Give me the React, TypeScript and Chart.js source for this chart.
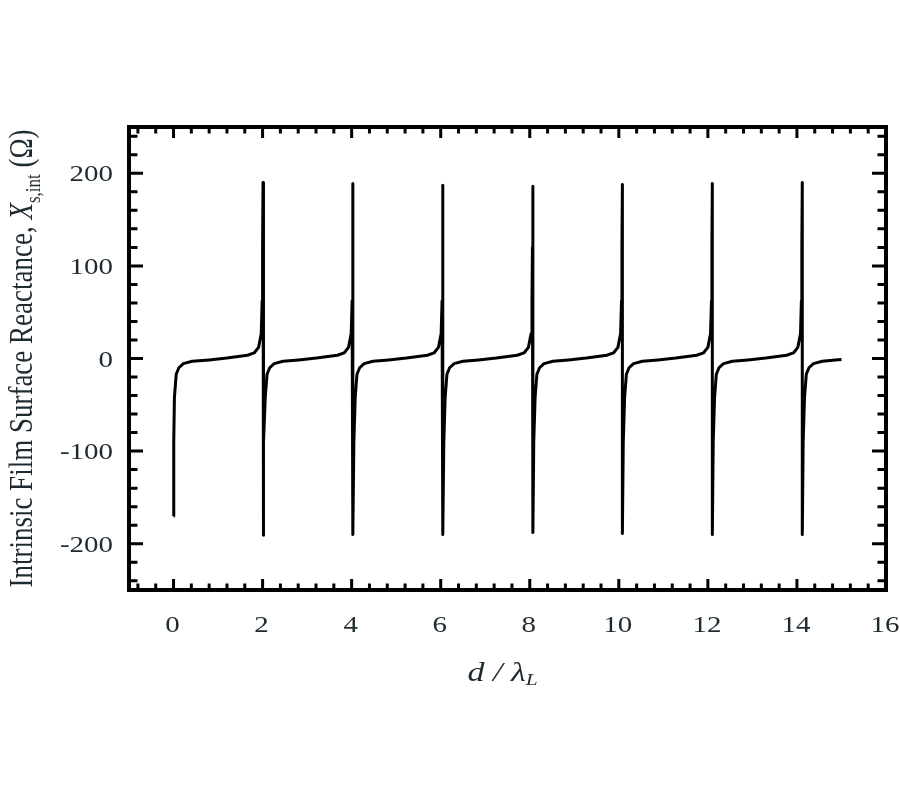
import React, { useEffect, useRef } from "react";
import { Chart, registerables } from "chart.js";

Chart.register(...registerables);

// Axis ranges and ticks
const X_MIN = -1;
const X_MAX = 16;
const Y_MIN = -250;
const Y_MAX = 250;
const X_TICKS = [0, 2, 4, 6, 8, 10, 12, 14, 16];
const Y_TICKS = [-200, -100, 0, 100, 200];
const X_MINOR_STEP = 0.4;
const Y_MINOR_STEP = 20;

// Curve: d / lambda_L  vs  X_s,int (Ohm)
const curveX = [
  0.0, 0.005, 0.02, 0.06, 0.12, 0.22, 0.42, 0.8, 1.2, 1.66, 1.81, 1.91, 1.97, 1.99, 2.0, 2.01,
  2.01, 2.03, 2.06, 2.1, 2.16, 2.26, 2.46, 2.81, 3.21, 3.68, 3.83, 3.93, 3.99, 4.01, 4.02, 4.03,
  4.03, 4.05, 4.08, 4.12, 4.18, 4.28, 4.48, 4.83, 5.23, 5.7, 5.85, 5.95, 6.01, 6.03, 6.04, 6.05,
  6.05, 6.07, 6.1, 6.14, 6.2, 6.3, 6.5, 6.85, 7.25, 7.72, 7.87, 7.97, 8.03, 8.05, 8.06, 8.07,
  8.07, 8.09, 8.12, 8.16, 8.22, 8.32, 8.52, 8.87, 9.27, 9.73, 9.88, 9.98, 10.04, 10.06, 10.07, 10.08,
  10.08, 10.1, 10.13, 10.17, 10.23, 10.33, 10.53, 10.88, 11.28, 11.75, 11.9, 12.0, 12.06, 12.08, 12.09, 12.1,
  12.1, 12.12, 12.15, 12.19, 12.25, 12.35, 12.55, 12.9, 13.3, 13.77, 13.92, 14.02, 14.08, 14.1, 14.11, 14.12,
  14.12, 14.14, 14.17, 14.21, 14.27, 14.37, 14.57, 14.8, 15.0,
];
const curveY = [
  -170, -90, -42, -17, -10, -5.5, -3, -1.5, 0.5, 3.5, 6, 12, 27, 62, 120, 190,
  -191, -90, -42, -17, -10, -5.5, -3, -1.5, 0.5, 3.5, 6, 12, 27, 62, 120, 189,
  -190, -90, -42, -17, -10, -5.5, -3, -1.5, 0.5, 3.5, 6, 12, 27, 62, 120, 187,
  -190, -90, -42, -17, -10, -5.5, -3, -1.5, 0.5, 3.5, 6, 12, 27, 62, 120, 186,
  -188, -90, -42, -17, -10, -5.5, -3, -1.5, 0.5, 3.5, 6, 12, 27, 62, 120, 188,
  -189, -90, -42, -17, -10, -5.5, -3, -1.5, 0.5, 3.5, 6, 12, 27, 62, 120, 189,
  -190, -90, -42, -17, -10, -5.5, -3, -1.5, 0.5, 3.5, 6, 12, 27, 62, 120, 190,
  -190, -90, -42, -17, -10, -5.5, -3, -2, -1,
];

const TEXT_COLOR = "#1f2b30";
const SERIF = '"Liberation Serif", "Times New Roman", serif';
const STRETCH = 1.26;

type Part = { text: string; italic?: boolean; sub?: boolean };

const Y_TITLE: Part[] = [
  { text: "Intrinsic Film Surface Reactance, " },
  { text: "X", italic: true },
  { text: "s,int", sub: true },
  { text: " (Ω)" },
];
const X_TITLE: Part[] = [
  { text: "d", italic: true },
  { text: " / ", italic: true },
  { text: "λ", italic: true },
  { text: "L", italic: true, sub: true },
];

function partFont(p: Part, size: number) {
  const s = p.sub ? Math.round(size * 0.64) : size;
  return `${p.italic ? "italic " : ""}${s}px ${SERIF}`;
}

function drawParts(ctx: CanvasRenderingContext2D, parts: Part[], size: number, subDrop: number) {
  // draws centered at origin, alphabetic baseline at y=0
  let total = 0;
  const widths: number[] = [];
  for (const p of parts) {
    ctx.font = partFont(p, size);
    const w = ctx.measureText(p.text).width;
    widths.push(w);
    total += w;
  }
  let x = -total / 2;
  ctx.textAlign = "left";
  ctx.textBaseline = "alphabetic";
  parts.forEach((p, i) => {
    ctx.font = partFont(p, size);
    ctx.fillText(p.text, x, p.sub ? subDrop : 0);
    x += widths[i];
  });
}

const framePlugin = {
  id: "framePlugin",
  afterDraw(chart: any) {
    const { ctx, chartArea } = chart;
    const { left, right, top, bottom } = chartArea;
    const xs = chart.scales.x;
    const ys = chart.scales.y;
    ctx.save();

    // minor + major ticks, pointing inward on all four sides
    ctx.strokeStyle = "#000";
    ctx.lineCap = "butt";
    ctx.lineWidth = 3;
    const isMajor = (v: number, arr: number[]) => arr.some((t) => Math.abs(t - v) < 1e-6);

    const xTick = (v: number, len: number) => {
      const px = xs.getPixelForValue(v);
      ctx.beginPath();
      ctx.moveTo(px, bottom);
      ctx.lineTo(px, bottom - len);
      ctx.moveTo(px, top);
      ctx.lineTo(px, top + len);
      ctx.stroke();
    };
    const yTick = (v: number, len: number) => {
      const py = ys.getPixelForValue(v);
      ctx.beginPath();
      ctx.moveTo(left, py);
      ctx.lineTo(left + len, py);
      ctx.moveTo(right, py);
      ctx.lineTo(right - len, py);
      ctx.stroke();
    };

    for (let k = Math.ceil(X_MIN / X_MINOR_STEP); k <= Math.floor(X_MAX / X_MINOR_STEP); k++) {
      const v = +(k * X_MINOR_STEP).toFixed(4);
      if (v <= X_MIN || v >= X_MAX) continue;
      if (!isMajor(v, X_TICKS)) xTick(v, 6.5);
    }
    X_TICKS.forEach((v) => xTick(v, 11));
    for (let k = Math.ceil(Y_MIN / Y_MINOR_STEP); k <= Math.floor(Y_MAX / Y_MINOR_STEP); k++) {
      const v = k * Y_MINOR_STEP;
      if (v <= Y_MIN || v >= Y_MAX) continue;
      if (!isMajor(v, Y_TICKS)) yTick(v, 8.5);
    }
    Y_TICKS.forEach((v) => yTick(v, 14));

    // frame
    ctx.lineWidth = 4;
    ctx.strokeRect(left, top, right - left, bottom - top);

    // tick labels
    ctx.fillStyle = TEXT_COLOR;
    ctx.font = `23px ${SERIF}`;
    ctx.textBaseline = "alphabetic";
    Y_TICKS.forEach((v) => {
      const py = ys.getPixelForValue(v);
      ctx.save();
      ctx.translate(left - 16, py + 8);
      ctx.scale(STRETCH, 1);
      ctx.textAlign = "right";
      ctx.fillText(String(v), 0, 0);
      ctx.restore();
    });
    X_TICKS.forEach((v) => {
      const px = xs.getPixelForValue(v);
      ctx.save();
      ctx.translate(px - 1, bottom + 42);
      ctx.scale(STRETCH, 1);
      ctx.textAlign = "center";
      ctx.fillText(String(v), 0, 0);
      ctx.restore();
    });

    // x axis title
    ctx.save();
    ctx.translate((left + right) / 2 - 5, bottom + 91);
    ctx.scale(STRETCH, 1);
    drawParts(ctx, X_TITLE, 27, 4);
    ctx.restore();

    // y axis title (rotated)
    ctx.save();
    ctx.translate(32, (top + bottom) / 2);
    ctx.scale(STRETCH, 1);
    ctx.rotate(-Math.PI / 2);
    drawParts(ctx, Y_TITLE, 27, 6);
    ctx.restore();

    ctx.restore();
  },
};

export default function App() {
  const canvasRef = useRef<HTMLCanvasElement | null>(null);

  useEffect(() => {
    const canvas = canvasRef.current;
    if (!canvas) return;
    const points = curveX.map((x, i) => ({ x, y: curveY[i] }));
    const chart = new Chart(canvas, {
      type: "scatter",
      data: {
        datasets: [
          {
            data: points,
            showLine: true,
            borderColor: "#000",
            backgroundColor: "#000",
            borderWidth: 3,
            pointRadius: 0,
            pointHoverRadius: 0,
            tension: 0,
            fill: false,
            borderJoinStyle: "round",
            borderCapStyle: "butt",
          } as any,
        ],
      },
      options: {
        animation: false,
        responsive: false,
        maintainAspectRatio: false,
        events: [],
        layout: { padding: { left: 129, top: 127, right: 14, bottom: 210 } },
        plugins: {
          legend: { display: false },
          tooltip: { enabled: false },
        },
        scales: {
          x: { type: "linear", min: X_MIN, max: X_MAX, display: false },
          y: { type: "linear", min: Y_MIN, max: Y_MAX, display: false },
        },
      },
      plugins: [framePlugin],
    });
    return () => chart.destroy();
  }, []);

  return (
    <div style={{ position: "absolute", left: 0, top: 0, width: 900, height: 800, background: "#fff" }}>
      <canvas ref={canvasRef} width={900} height={800} style={{ display: "block", width: 900, height: 800 }} />
    </div>
  );
}
